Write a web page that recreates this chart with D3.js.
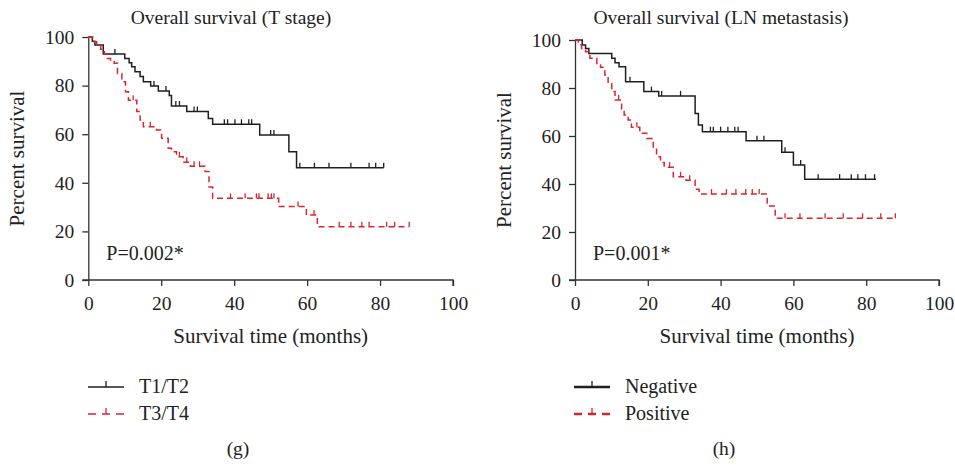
<!DOCTYPE html>
<html>
<head>
<meta charset="utf-8">
<script src="https://cdn.jsdelivr.net/npm/d3@7"></script>
<style>
  body { margin: 0; background: #fff; }
  svg text { font-family: "Liberation Serif", "DejaVu Serif", serif; fill: #222; }
</style>
</head>
<body>
<div class="KM"></div>
<script>
// ---- data (time in months, percent survival) ----
// panel g : T stage
var gT12Time = [0, 1.1, 1.8, 4.1, 10, 11.2, 11.9, 12.8, 14.2, 15.1, 17.1, 19.2, 22.2, 22.8, 27, 32.9, 34.1, 47, 55, 57.1, 81];
var gT12Surv = [100, 98.3, 96.7, 93, 91.2, 89.4, 87.8, 85.7, 83.7, 81.6, 79.8, 77.8, 75.9, 71.6, 69.3, 66.5, 64.1, 59.7, 52.8, 46.2, 46.2];
var gT12Cens = [7.3, 18, 21.3, 24, 25, 29, 29.9, 37.3, 38.2, 40.2, 42, 44, 44.8, 50, 50.9, 58, 62, 66, 72, 77, 78.8, 81];

var gT34Time = [0, 1.2, 2.3, 3.4, 4.4, 5.2, 6.1, 7.1, 8, 9.2, 10.2, 11, 13.3, 14.2, 15.1, 18.7, 20.1, 21.9, 22.8, 24.2, 26, 28, 32, 33.1, 34.1, 52.2, 59.8, 62.8, 88];
var gT34Surv = [100, 98, 96.7, 95, 93, 91.2, 90.2, 89.2, 85, 81.6, 77.5, 74, 69.3, 65.8, 63.1, 61.7, 58.3, 54.2, 52.8, 50.7, 48.5, 46.8, 44.6, 38.3, 33.6, 30.2, 26.7, 21.9, 21.9];
var gT34Cens = [12.3, 17, 25, 27, 29, 30.5, 39, 43, 46.1, 46.8, 49.3, 50.2, 50.9, 57.5, 61.9, 68.8, 72, 75, 77, 81.8, 84, 88];

// panel h : LN metastasis
var hNegTime = [0, 2, 2.9, 3.8, 10.1, 11, 12.1, 13.9, 18.9, 23, 33, 33.9, 35, 47, 56.8, 60, 63.1, 82.7];
var hNegSurv = [100, 97.9, 96.5, 94.4, 92.4, 90.5, 88.9, 82.6, 78.5, 76.7, 69.4, 64.6, 61.8, 58, 53.2, 47.9, 42, 42];
var hNegCens = [15.1, 21, 23.8, 29, 37.2, 38, 40, 42, 43.9, 44.8, 50, 51.9, 57.7, 62, 66.8, 72.7, 75.9, 77.7, 79.8, 82.3];

var hPosTime = [0, 0.9, 1.8, 2.9, 4.1, 6, 7, 8.2, 9.1, 10.1, 11, 12.8, 13.5, 14.6, 15.5, 17.8, 19.7, 21.5, 22.4, 23.5, 24.5, 27, 30.5, 33, 34.1, 52.8, 55, 88];
var hPosSurv = [100, 98, 96.5, 95.1, 92.4, 89.6, 88.6, 85.4, 81.9, 78.5, 75, 70.8, 68.8, 66.7, 63.6, 61.1, 59, 54.9, 51.4, 49, 47, 43, 41.6, 37.8, 35.8, 30.8, 25.7, 25.7];
var hPosCens = [12, 17, 26, 29, 31.5, 37.5, 41.6, 44.2, 46.9, 48.7, 50.6, 57.7, 61.8, 68.7, 73.7, 79, 84, 88];

var axisTicks = [0, 20, 40, 60, 80, 100];

var black = "#1f1f1f";
var red = "#d8262e";

var svg = d3.select(".KM").append("svg")
  .attr("width", 955)
  .attr("height", 466);

function zip(t, s){
  return t.map(function(d, i){ return {t: d, s: s[i]}; });
}

function survAt(time, surv, c){
  var v = surv[0];
  for (var i = 0; i < time.length; i++){ if (time[i] <= c) v = surv[i]; }
  return v;
}

function drawPanel(p){
  var xScale = d3.scaleLinear().domain([0, 100]).range([p.x0, p.x1]);
  var yScale = d3.scaleLinear().domain([0, 100]).range([280, p.yTop]);
  var g = svg.append("g");

  // axes
  var ax = g.append("g")
    .attr("transform", "translate(0,280)")
    .call(d3.axisBottom(xScale).tickValues(axisTicks).tickSize(6).tickPadding(10).tickSizeOuter(6));
  var ay = g.append("g")
    .attr("transform", "translate(" + p.x0 + ",0)")
    .call(d3.axisLeft(yScale).tickValues(axisTicks).tickSize(6).tickPadding(8).tickSizeOuter(0));
  [ax, ay].forEach(function(a){
    a.selectAll("path, line").attr("stroke", "#333").attr("stroke-width", 1.3);
    a.selectAll("text").style("font-size", "19.5px").attr("fill", "#222");
  });
  ax.select(".domain").attr("d", "M" + (p.x0 - 6) + ",0H" + p.x1 + "V6");

  // curves
  p.series.forEach(function(s){
    var pts = zip(s.time, s.surv);
    var line = d3.line()
      .x(function(d){ return xScale(d.t); })
      .y(function(d){ return yScale(d.s); })
      .curve(d3.curveStepAfter);
    g.append("path")
      .datum(pts)
      .attr("d", line)
      .attr("fill", "none")
      .attr("stroke", s.color)
      .attr("stroke-width", 1.5)
      .attr("stroke-dasharray", s.dash ? "6,4" : null);

    g.selectAll(null)
      .data(s.cens)
      .enter()
      .append("line")
      .attr("x1", function(d){ return xScale(d); })
      .attr("x2", function(d){ return xScale(d); })
      .attr("y1", function(d){ return yScale(survAt(s.time, s.surv, d)); })
      .attr("y2", function(d){ return yScale(survAt(s.time, s.surv, d)) - 5; })
      .attr("stroke", s.color)
      .attr("stroke-width", 1.3);
  });

  // texts
  g.append("text").text(p.title)
    .attr("x", p.titleX).attr("y", 24)
    .attr("text-anchor", "middle").style("font-size", "19.5px");
  g.append("text").text("Survival time (months)")
    .attr("x", (p.x0 + p.x1) / 2).attr("y", 343)
    .attr("text-anchor", "middle").style("font-size", "21px");
  g.append("text").text("Percent survival")
    .attr("transform", "translate(" + p.yLabelX + "," + ((280 + p.yTop) / 2) + ") rotate(-90)")
    .attr("text-anchor", "middle").style("font-size", "21px");
  g.append("text").text(p.pval)
    .attr("x", p.x0 + 18).attr("y", 260)
    .style("font-size", "20px");

  // legend
  p.series.forEach(function(s, i){
    var ly = 387 + i * 27;
    g.append("line")
      .attr("x1", p.legX).attr("x2", p.legX + 36)
      .attr("y1", ly).attr("y2", ly)
      .attr("stroke", s.color)
      .attr("stroke-width", p.legWidth)
      .attr("stroke-dasharray", s.dash ? "8,6" : null);
    g.append("line")
      .attr("x1", p.legX + 18).attr("x2", p.legX + 18)
      .attr("y1", ly).attr("y2", ly - 6)
      .attr("stroke", s.color)
      .attr("stroke-width", 1.3);
    g.append("text").text(s.name)
      .attr("x", p.legX + 51).attr("y", ly + 6)
      .style("font-size", "20px");
  });

  g.append("text").text(p.tag)
    .attr("x", p.tagX).attr("y", 455)
    .attr("text-anchor", "middle").style("font-size", "19.5px");
}

drawPanel({
  x0: 88.3, x1: 453, yTop: 37, yLabelX: 24,
  title: "Overall survival (T stage)", titleX: 231,
  pval: "P=0.002*", legX: 88, legWidth: 1.5, tag: "(g)", tagX: 238,
  series: [
    {name: "T1/T2", time: gT12Time, surv: gT12Surv, cens: gT12Cens, color: black, dash: false},
    {name: "T3/T4", time: gT34Time, surv: gT34Surv, cens: gT34Cens, color: red, dash: true}
  ]
});

drawPanel({
  x0: 575, x1: 939, yTop: 40, yLabelX: 511,
  title: "Overall survival (LN metastasis)", titleX: 721,
  pval: "P=0.001*", legX: 574, legWidth: 2.5, tag: "(h)", tagX: 724,
  series: [
    {name: "Negative", time: hNegTime, surv: hNegSurv, cens: hNegCens, color: black, dash: false},
    {name: "Positive", time: hPosTime, surv: hPosSurv, cens: hPosCens, color: red, dash: true}
  ]
});
</script>
</body>
</html>
